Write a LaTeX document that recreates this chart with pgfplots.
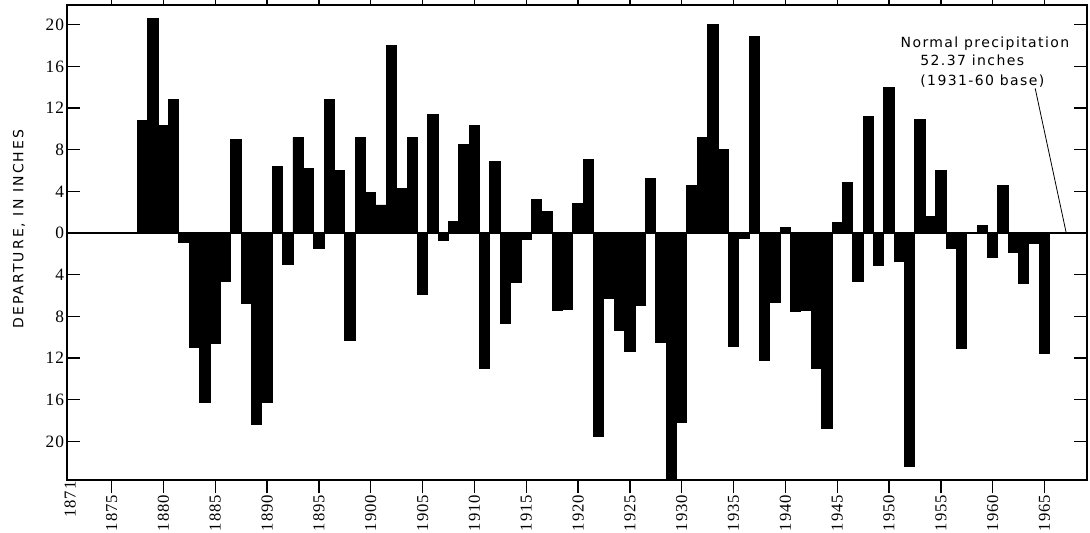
\documentclass[border=0pt]{standalone}
\usepackage{pgfplots}
\pgfplotsset{compat=1.18}
\usepackage{fontspec}
\setmainfont{Liberation Serif}
\newfontfamily\tickfont[LetterSpace=6]{Liberation Serif}
\newfontfamily\annotfont[LetterSpace=10]{DejaVu Sans}
\newfontfamily\ylabfont[LetterSpace=15]{DejaVu Sans}

% annual departure from normal precipitation, inches
\pgfplotstableread{
year dep
1878 10.8
1879 20.6
1880 10.3
1881 12.8
1882 -0.9
1883 -11.0
1884 -16.3
1885 -10.6
1886 -4.6
1887 9.0
1888 -6.8
1889 -18.4
1890 -16.3
1891 6.4
1892 -3.0
1893 9.2
1894 6.2
1895 -1.5
1896 12.8
1897 6.0
1898 -10.3
1899 9.2
1900 3.9
1901 2.7
1902 18.0
1903 4.3
1904 9.2
1905 -5.9
1906 11.4
1907 -0.7
1908 1.1
1909 8.5
1910 10.3
1911 -13.0
1912 6.9
1913 -8.7
1914 -4.7
1915 -0.6
1916 3.2
1917 2.1
1918 -7.4
1919 -7.3
1920 2.8
1921 7.1
1922 -19.5
1923 -6.3
1924 -9.3
1925 -11.4
1926 -6.9
1927 5.2
1928 -10.5
1929 -24.5
1930 -18.2
1931 4.6
1932 9.2
1933 20.0
1934 8.0
1935 -10.9
1936 -0.5
1937 18.9
1938 -12.2
1939 -6.7
1940 0.5
1941 -7.5
1942 -7.4
1943 -13.0
1944 -18.8
1945 1.0
1946 4.9
1947 -4.6
1948 11.2
1949 -3.1
1950 14.0
1951 -2.7
1952 -22.4
1953 10.9
1954 1.6
1955 6.0
1956 -1.5
1957 -11.1
1958 0.1
1959 0.7
1960 -2.3
1961 4.6
1962 -1.9
1963 -4.8
1964 -1.0
1965 -11.6
}\deptable

\begin{document}
\begin{tikzpicture}
\begin{axis}[
    scale only axis,
    width=765pt, height=356.25pt,
    xmin=1870.7, xmax=1969.1,
    ymin=-23.7, ymax=21.9,
    axis line style={line width=1.5pt},
    tick align=inside,
    major tick length=10pt,
    tick style={line width=1pt, black},
    xtick={1875,1880,...,1965},
    extra x ticks={1871},
    extra x tick style={major tick length=0pt},
    ytick={-20,-16,...,20},
    yticklabels={20,16,12,8,4,0,4,8,12,16,20},
    /pgf/number format/assume math mode=true,
    /pgf/number format/1000 sep={},
    xticklabel style={font=\tickfont\fontsize{12.5}{14}\selectfont, rotate=90, anchor=east, inner sep=1pt},
    yticklabel style={font=\tickfont\fontsize{13}{14}\selectfont, inner sep=2pt},
    ylabel={DEPARTURE, IN INCHES},
    ylabel style={font=\ylabfont\fontsize{10.5}{12}\selectfont, at={(rel axis cs:-0.047,0.528)}, anchor=center},
    ybar, bar width=1, bar shift=0pt,
    clip=true,
]
\addplot[fill=black, draw=black, line width=0.7pt] table[x=year, y=dep] {\deptable};
\draw[line width=1.5pt] (axis cs:1870.7,0) -- (axis cs:1969.1,0);
\draw[line width=0.6pt] (axis cs:1964.1,13.9) -- (axis cs:1967.1,0);
\node[font=\annotfont\fontsize{10.5}{12}\selectfont, anchor=base west, inner sep=0pt] at (axis cs:1951.1,17.86) {Normal precipitation};
\node[font=\annotfont\fontsize{10.5}{12}\selectfont, anchor=base west, inner sep=0pt] at (axis cs:1953.0,16.1) {52.37 inches};
\node[font=\annotfont\fontsize{10.5}{12}\selectfont, anchor=base west, inner sep=0pt] at (axis cs:1953.0,14.2) {(1931-60 base)};
\coordinate (sw) at (rel axis cs:0,0);
\coordinate (ne) at (rel axis cs:1,1);
\end{axis}
\pgfresetboundingbox
\path[use as bounding box] ([shift={(-50.25pt,-39.75pt)}]sw) rectangle ([shift={(2.25pt,3.75pt)}]ne);
\end{tikzpicture}
\end{document}
